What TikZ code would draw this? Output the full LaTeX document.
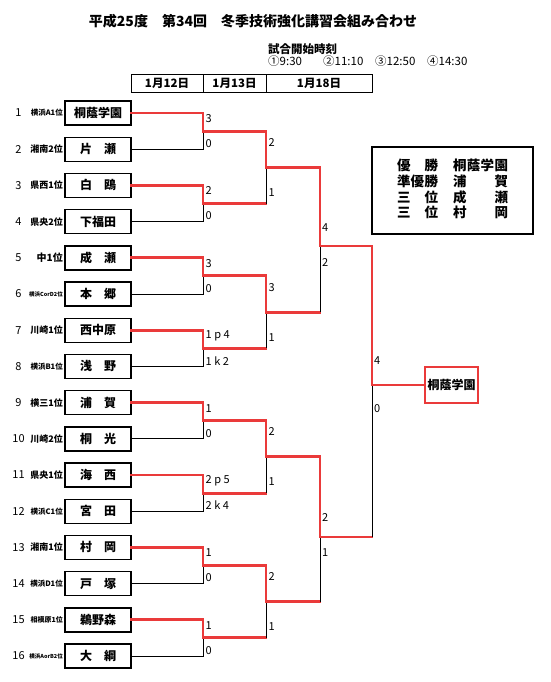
\documentclass[tikz,border=0pt]{standalone}
\usepackage{fontspec}
\setmainfont{Noto Sans CJK JP}
\usetikzlibrary{positioning}
\definecolor{winred}{RGB}{234,58,58}

\begin{document}
\begin{tikzpicture}[
  x=1pt, y=-1pt,
  team/.style={draw, line width=1.4pt, minimum width=66pt, minimum height=24pt, inner sep=0pt, font=\fontsize{12}{12}\selectfont\bfseries},
  seed/.style={inner sep=0pt, font=\fontsize{11}{11}\selectfont},
  pref/.style={anchor=east, inner sep=0pt},
  score/.style={anchor=west, inner sep=0pt, font=\fontsize{11}{11}\selectfont},
  datecell/.style={draw, line width=0.8pt, minimum height=18pt, inner sep=0pt, outer sep=0pt, font=\fontsize{11.5}{11.5}\selectfont\bfseries},
  win/.style={draw=winred, line width=2.9pt, line cap=rect},
  lose/.style={draw=black, line width=0.9pt}
]
\useasboundingbox (0,0) rectangle (550,682);

% title and start times
\node[font=\fontsize{14}{14}\selectfont\bfseries] (title) at (253,21) {平成25度　第34回　冬季技術強化講習会組み合わせ};
\node[anchor=west, inner sep=0pt, font=\fontsize{11.5}{11.5}\selectfont\bfseries] (kick) at (268,49) {試合開始時刻};
\foreach \x/\t [count=\k] in {268/①9:30, 323/②11:10, 375/③12:50, 427/④14:30}
  \node[anchor=west, inner sep=0pt, font=\fontsize{11.5}{11.5}\selectfont] (time\k) at (\x,61) {\t};

% date header
\node[datecell, minimum width=72pt] (d12) at (167,83) {1月12日};
\node[datecell, minimum width=63pt, right=0pt of d12] (d13) {1月13日};
\node[datecell, minimum width=106pt, right=0pt of d13] (d18) {1月18日};

% teams
\foreach \i/\pre/\fs/\name in {
  1/横浜A1位/7.5/桐蔭学園, 2/湘南2位/9/片　瀬, 3/県西1位/9/白　鴎, 4/県央2位/9/下福田,
  5/中1位/10/成　瀬, 6/横浜CorD2位/5.5/本　郷, 7/川崎1位/9/西中原, 8/横浜B1位/7.5/浅　野,
  9/横三1位/9/浦　賀, 10/川崎2位/9/桐　光, 11/県央1位/9/海　西, 12/横浜C1位/7.5/宮　田,
  13/湘南1位/9/村　岡, 14/横浜D1位/7.5/戸　塚, 15/相模原1位/7/鵜野森, 16/横浜AorB2位/5.5/大　綱}
{
  \pgfmathsetmacro\ty{113+36.2*(\i-1)}
  \node[team] (t\i) at (98,\ty) {\name};
  \node[seed] (n\i) at (18.5,\ty) {\i};
  \node[pref, font=\fontsize{\fs}{\fs}\selectfont\bfseries] (p\i) at (63,\ty) {\pre};
}

% junctions
\foreach \k in {1,...,8} \coordinate (a\k) at (203,{131.1+72.4*(\k-1)});
\foreach \k in {1,...,4} \coordinate (b\k) at (266,{167.3+144.8*(\k-1)});
\coordinate (c1) at (320,246);
\coordinate (c2) at (320,537);
\coordinate (fin) at (372,385);

% champion and results
\node[draw=winred, line width=1.8pt, minimum width=53pt, minimum height=36pt, inner sep=0pt, font=\fontsize{12}{12}\selectfont\bfseries] (champ) at (451.5,385) {桐蔭学園};
\node[draw, line width=2.6pt, minimum width=161pt, minimum height=87pt, inner sep=0pt, font=\fontsize{13.5}{14}\selectfont\bfseries] (result) at (452.5,190.5) {%
  \begin{tabular}{@{}l@{\hspace{15pt}}l@{}}
  \makebox[41pt]{優\hfill 勝} & \makebox[55pt]{桐\hfill 蔭\hfill 学\hfill 園}\\
  \makebox[41pt]{準\hfill 優\hfill 勝} & \makebox[55pt]{浦\hfill 賀}\\
  \makebox[41pt]{三\hfill 位} & \makebox[55pt]{成\hfill 瀬}\\
  \makebox[41pt]{三\hfill 位} & \makebox[55pt]{村\hfill 岡}
  \end{tabular}};

% round 1
\foreach \k/\su/\sl in {1/3/0, 2/2/0, 3/3/0, 4/1 p 4/1 k 2, 5/1/0, 6/2 p 5/2 k 4, 7/1/0, 8/1/0} {
  \pgfmathtruncatemacro\u{2*\k-1}
  \pgfmathtruncatemacro\l{2*\k}
  \draw[lose] (t\l.east) -| (a\k);
  \draw[win] (t\u.east) -| (a\k) -- (a\k -| b1);
  \node[score] (r1u\k) at ([xshift=2.5pt, yshift=12.5pt]a\k) {\su};
  \node[score] (r1l\k) at ([xshift=2.5pt, yshift=-12.5pt]a\k) {\sl};
}

% round 2
\foreach \k/\su/\sl in {1/2/1, 2/3/1, 3/2/1, 4/2/1} {
  \pgfmathtruncatemacro\u{2*\k-1}
  \pgfmathtruncatemacro\l{2*\k}
  \draw[lose] (a\l -| b\k) -- (b\k);
  \draw[win] (a\u -| b\k) -- (b\k) -- (b\k -| c1);
  \node[score] (r2u\k) at ([xshift=2.5pt, yshift=25pt]b\k) {\su};
  \node[score] (r2l\k) at ([xshift=2.5pt, yshift=-25pt]b\k) {\sl};
}

% semifinals
\draw[lose] (b2 -| c1) -- (c1);
\draw[win] (b1 -| c1) -- (c1) -- (c1 -| fin);
\draw[lose] (b4 -| c2) -- (c2);
\draw[win] (b3 -| c2) -- (c2) -- (c2 -| fin);
\node[score] (r3u1) at ([xshift=2pt, yshift=18pt]c1) {4};
\node[score] (r3l1) at ([xshift=2pt, yshift=-17pt]c1) {2};
\node[score] (r3u2) at ([xshift=2pt, yshift=19pt]c2) {2};
\node[score] (r3l2) at ([xshift=2pt, yshift=-16pt]c2) {1};

% final
\draw[lose] (c2 -| fin) -- (fin);
\draw[win] (c1 -| fin) -- (fin) -- (champ.west);
\node[score] (r4u) at ([xshift=2pt, yshift=24pt]fin) {4};
\node[score] (r4l) at ([xshift=2pt, yshift=-24pt]fin) {0};
\end{tikzpicture}
\end{document}
